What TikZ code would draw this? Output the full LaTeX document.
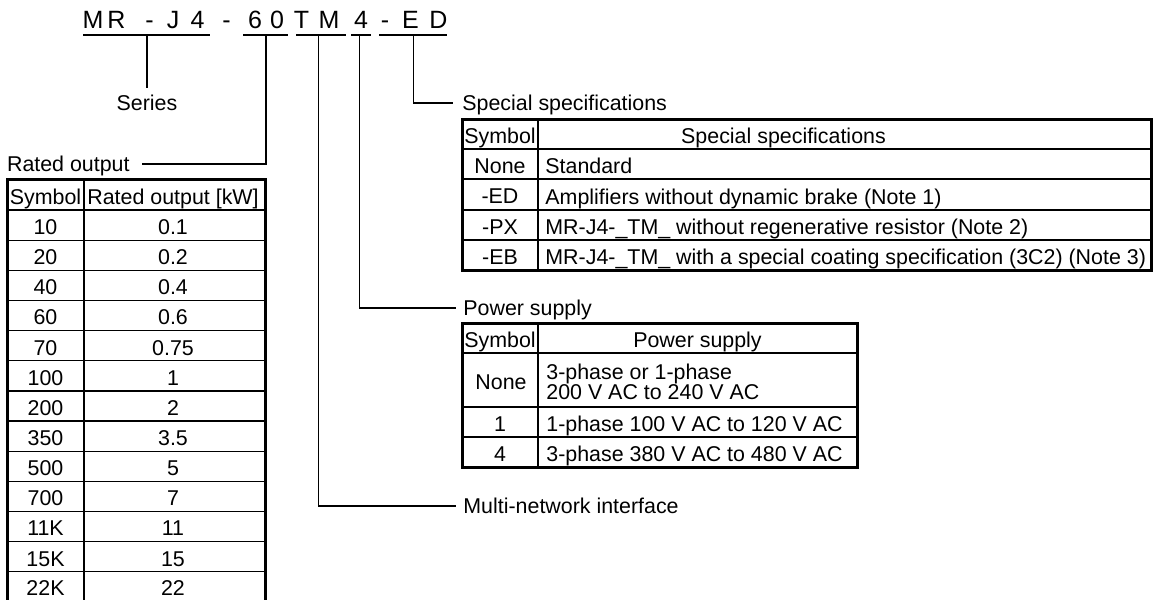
\documentclass[tikz,border=0pt]{standalone}
\usepackage{fontspec}
\setmainfont{Liberation Sans}
\begin{document}
\begin{tikzpicture}[x=0.5pt,y=-0.5pt,line join=miter,
  every node/.style={inner sep=0pt,font=\fontsize{10.7}{10}\selectfont},
  codechar/.style={anchor=base,font=\fontsize{12.5}{12.5}\selectfont},
  lbl/.style={text depth=0pt,inner ysep=0pt},
  cell/.style={text depth=0pt},
  desc/.style={text depth=0pt,anchor=west},
  leader/.style={line width=0.65pt},
  frame/.style={line width=1.5pt},
  rowrule/.style={line width=0.65pt},
  headrule/.style={line width=1.25pt},
  colrule/.style={line width=1pt}]
  \useasboundingbox (0,0) rectangle (1158,600);
  \clip (0,0) rectangle (1158,600);
%%
  % Node: model code
  \node[codechar] (ch1) at (93,28) {M};
  \node[codechar] (ch2) at (116.5,28) {R};
  \node[codechar] (ch3) at (149.5,28) {-};
  \node[codechar] (ch4) at (173,28) {J};
  \node[codechar] (ch5) at (197.5,28) {4};
  \node[codechar] (ch6) at (226.5,28) {-};
  \node[codechar] (ch7) at (255,28) {6};
  \node[codechar] (ch8) at (277,28) {0};
  \node[codechar] (ch9) at (301.5,28) {T};
  \node[codechar] (ch10) at (329,28) {M};
  \node[codechar] (ch11) at (361,28) {4};
  \node[codechar] (ch12) at (385,28) {-};
  \node[codechar] (ch13) at (410.5,28) {E};
  \node[codechar] (ch14) at (438.5,28) {D};
  % underlines
  \draw[leader] (83,35) -- (210,35);
  \draw[leader] (243,35) -- (288,35);
  \draw[leader] (296,35) -- (346,35);
  \draw[leader] (351,35) -- (371,35);
  \draw[leader] (379,35) -- (447,35);
  \coordinate (useries) at (147,35);
  \coordinate (u60) at (266,35);
  \coordinate (utm) at (318.5,35);
  \coordinate (u4) at (359.5,35);
  \coordinate (ued) at (413.5,35);
  % Node: labels
  \node[lbl,inner ysep=3.5pt] (series) at (147,103) {Series};
  \node[lbl,anchor=east,inner xsep=6pt] (ratedlab) at (142,164) {Rated output};
  \node[lbl,anchor=west,inner xsep=4.5pt] (speclab) at (453,103) {Special specifications};
  \node[lbl,anchor=west,inner xsep=3.5pt] (pwrlab) at (456,308) {Power supply};
  \node[lbl,anchor=west,inner xsep=3.5pt] (netlab) at (456,506) {Multi-network interface};
  % Edge: code -> labels
  \draw[leader] (useries) -- (series.north);
  \draw[leader] (u60) |- (ratedlab.east);
  \draw[leader] (ued) |- (speclab.west);
  \draw[leader] (u4) |- (pwrlab.west);
  \draw[leader] (utm) |- (netlab.west);
%%
  % Table: rated output
  \draw[headrule] (7,210) -- (265,210);
  \draw[rowrule] (7,240.2) -- (265,240.2);
  \draw[rowrule] (7,270.3) -- (265,270.3);
  \draw[rowrule] (7,300.5) -- (265,300.5);
  \draw[rowrule] (7,330.6) -- (265,330.6);
  \draw[rowrule] (7,360.8) -- (265,360.8);
  \draw[rowrule] (7,390.9) -- (265,390.9);
  \draw[rowrule] (7,421.1) -- (265,421.1);
  \draw[rowrule] (7,451.2) -- (265,451.2);
  \draw[rowrule] (7,481.4) -- (265,481.4);
  \draw[rowrule] (7,511.5) -- (265,511.5);
  \draw[rowrule] (7,541.7) -- (265,541.7);
  \draw[rowrule] (7,571.8) -- (265,571.8);
  \draw[colrule] (84,179) -- (84,602);
  \draw[frame] (7,179) rectangle (265,602);
  \node[cell] (rsym) at (45.5,196.5) {Symbol};
  \node[cell] (rout) at (173,196.5) {Rated output [kW]};
  \node[cell] (rs1) at (45.5,227.1) {10};   \node[cell] (rv1) at (173,227.1) {0.1};
  \node[cell] (rs2) at (45.5,257.2) {20};   \node[cell] (rv2) at (173,257.2) {0.2};
  \node[cell] (rs3) at (45.5,287.4) {40};   \node[cell] (rv3) at (173,287.4) {0.4};
  \node[cell] (rs4) at (45.5,317.5) {60};   \node[cell] (rv4) at (173,317.5) {0.6};
  \node[cell] (rs5) at (45.5,347.7) {70};   \node[cell] (rv5) at (173,347.7) {0.75};
  \node[cell] (rs6) at (45.5,377.8) {100};  \node[cell] (rv6) at (173,377.8) {1};
  \node[cell] (rs7) at (45.5,408.0) {200};  \node[cell] (rv7) at (173,408.0) {2};
  \node[cell] (rs8) at (45.5,438.1) {350};  \node[cell] (rv8) at (173,438.1) {3.5};
  \node[cell] (rs9) at (45.5,468.3) {500};  \node[cell] (rv9) at (173,468.3) {5};
  \node[cell] (rs10) at (45.5,498.4) {700}; \node[cell] (rv10) at (173,498.4) {7};
  \node[cell] (rs11) at (45.5,528.6) {11K}; \node[cell] (rv11) at (173,528.6) {11};
  \node[cell] (rs12) at (45.5,558.7) {15K}; \node[cell] (rv12) at (173,558.7) {15};
  \node[cell] (rs13) at (45.5,588.4) {22K}; \node[cell] (rv13) at (173,588.4) {22};
%%
  % Table: special specifications
  \draw[headrule] (462,149) -- (1151,149);
  \draw[rowrule] (462,179) -- (1151,179);
  \draw[rowrule] (462,210) -- (1151,210);
  \draw[rowrule] (462,240) -- (1151,240);
  \draw[colrule] (538,119) -- (538,270);
  \draw[frame] (462,119) rectangle (1151,270);
  \node[cell] (ssym) at (500,136) {Symbol};
  \node[cell] (shead) at (783.5,136) {Special specifications};
  \node[cell] (ss1) at (500,166) {None};
  \node[desc] (sd1) at (545,166) {Standard};
  \node[cell] (ss2) at (500,196.5) {-ED};
  \node[desc] (sd2) at (545,196.5) {Amplifiers without dynamic brake (Note 1)};
  \node[cell] (ss3) at (500,227) {-PX};
  \node[desc] (sd3) at (545,227) {MR-J4-\_TM\_ without regenerative resistor (Note 2)};
  \node[cell] (ss4) at (500,257) {-EB};
  \node[desc] (sd4) at (545,257) {MR-J4-\_TM\_ with a special coating specification (3C2) (Note 3)};
%%
  % Table: power supply
  \draw[headrule] (462,353) -- (857,353);
  \draw[rowrule] (462,407) -- (857,407);
  \draw[rowrule] (462,437) -- (857,437);
  \draw[colrule] (538,323) -- (538,467);
  \draw[frame] (462,323) rectangle (857,467);
  \node[cell] (psym) at (500,340) {Symbol};
  \node[cell] (phead) at (697.5,340) {Power supply};
  \node[cell] (ps1) at (501,382) {None};
  \node[desc,align=left] (pd1) at (546,382) {3-phase or 1-phase\\200 V AC to 240 V AC};
  \node[cell] (ps2) at (500,424) {1};
  \node[desc] (pd2) at (546,424) {1-phase 100 V AC to 120 V AC};
  \node[cell] (ps3) at (500,454) {4};
  \node[desc] (pd3) at (546,454) {3-phase 380 V AC to 480 V AC};
%
\end{tikzpicture}
\end{document}
